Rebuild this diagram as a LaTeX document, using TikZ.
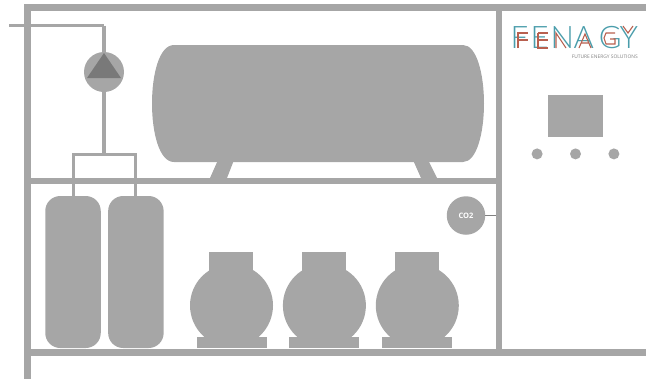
\documentclass[tikz,border=0pt]{standalone}
\usepackage{fontspec}
\setmainfont{Open Sans}
\newfontfamily\logofont{Lato Light}
\usepackage{tikz}
\usetikzlibrary{positioning}
\definecolor{plantgray}{HTML}{A6A6A6}
\definecolor{logoteal}{HTML}{4A9DAB}
\definecolor{logored}{HTML}{B8604F}
\tikzstyle{wall} = [fill=plantgray]
\tikzstyle{pipe} = [draw=plantgray, line width=3pt]
\tikzstyle{riser} = [draw=plantgray, line width=3.8pt]
\tikzstyle{cylinder} = [rectangle, rounded corners=15pt, minimum width=55.5pt, minimum height=152pt, inner sep=0pt, fill=plantgray]
\tikzstyle{sphere} = [circle, minimum size=83pt, inner sep=0pt, fill=plantgray]
\tikzstyle{neck} = [rectangle, minimum width=44pt, minimum height=26pt, inner sep=0pt, fill=plantgray]
\tikzstyle{foot} = [rectangle, minimum width=70pt, minimum height=11pt, inner sep=0pt, fill=plantgray]
\tikzstyle{knob} = [circle, minimum size=11pt, inner sep=0pt, fill=plantgray]
\tikzstyle{logostroke} = [logored, line width=1.1pt]

\begin{document}
\begin{tikzpicture}[x=1pt, y=-1pt]
\useasboundingbox (0,0) rectangle (646,381);

% frame
\fill [wall] (24,4) rectangle (646,10.5);
\fill [wall] (24,4) rectangle (30.5,379);
\fill [wall] (30,178) rectangle (496,184);
\fill [wall] (30,349) rectangle (646,355.5);
\fill [wall] (496,4) rectangle (502,355.5);

% big tank
\fill [wall] (218,160) -- (234,160) -- (227,178) -- (210,178) -- cycle;
\fill [wall] (413,160) -- (428,160) -- (437,178) -- (421,178) -- cycle;
\fill [wall] (174,45) -- (463,45) .. controls (477,45) and (484,75) .. (484,103.5) .. controls (484,132) and (477,162) .. (463,162) -- (174,162) .. controls (159,162) and (152,132) .. (152,103.5) .. controls (152,75) and (159,45) .. (174,45) -- cycle;

% gas cylinders
\node (cyla) [cylinder] at (73,272) {};
\node (cylb) [cylinder, right=7pt of cyla] {};

% pump
\node (pump) [circle, minimum size=40pt, inner sep=0pt, fill=plantgray] at (104,72) {};
\fill [gray!95!black] (104,53) -- (121,78) -- (87,78) -- cycle;
\coordinate (inlet) at (9,25.5);
\coordinate (bend) at (104,25.5);
\coordinate (manifold) at (104,154.3);
\draw [pipe] (inlet) -- (bend);
\draw [riser] (bend) -- (pump);
\draw [riser] (pump) -- (manifold);
\draw [pipe] (cyla.north) |- (manifold) -| (cylb.north);

% buffer vessels
\node (spherea) [sphere] at (231.5,305.5) {};
\node (neckA) [neck] at (231,265) {};
\node (footA) [foot] at (232,342.5) {};
\node (sphereb) [sphere, right=9.5pt of spherea] {};
\node (neckB) [neck] at (324,265) {};
\node (footB) [foot] at (324,342.5) {};
\node (spherec) [sphere, right=9.5pt of sphereb] {};
\node (neckC) [neck] at (417,265) {};
\node (footC) [foot] at (417,342.5) {};

% co2 sensor
\node (sensor) [circle, minimum size=38.5pt, inner sep=0pt, fill=plantgray, text=white, font=\bfseries\fontsize{7.5}{8}\selectfont] at (466,215.5) {CO2};
\coordinate (sensorwall) at (496,215.5);
\draw [draw=gray, line width=1.7pt] (sensor) -- (sensorwall);

% control panel
\node (screen) [rectangle, minimum width=55pt, minimum height=42pt, inner sep=0pt, fill=plantgray] at (575.5,116) {};
\node (knobb) [knob, below=11pt of screen] {};
\node (knoba) [knob, left=27pt of knobb] {};
\node (knobc) [knob, right=27pt of knobb] {};

% logo
\node (logo) [logoteal, inner sep=0pt, anchor=west, font=\logofont\fontsize{31}{31}\selectfont] at (510.5,37.5) {F\kern2.5pt E\kern2pt N\kern-0.5pt A\kern5pt G\kern-2pt Y};
\node (tagline) [text=gray, inner sep=0pt, anchor=east, font=\fontsize{4.9}{5}\selectfont] at (638,56.5) {FUTURE ENERGY SOLUTIONS};
\draw [logostroke] (518,48) -- (518,33) -- (528,33) (518,40) -- (528,40);
\draw [logostroke] (538,33) -- (548,33) (538,40) -- (548,40) (538,33) -- (538,48) -- (548,48);
\draw [logostroke] (556,48) -- (556,33) -- (566,48);
\draw [logostroke] (579,48) -- (585,34) -- (591,48) (581,43) -- (589,43);
\draw [logostroke] (615,33) -- (606,33) -- (604,38) -- (606,44) -- (615,44) -- (615,39) -- (610,39);
\draw [logostroke] (623,26) -- (628,33) -- (633,26);
\end{tikzpicture}
\end{document}
